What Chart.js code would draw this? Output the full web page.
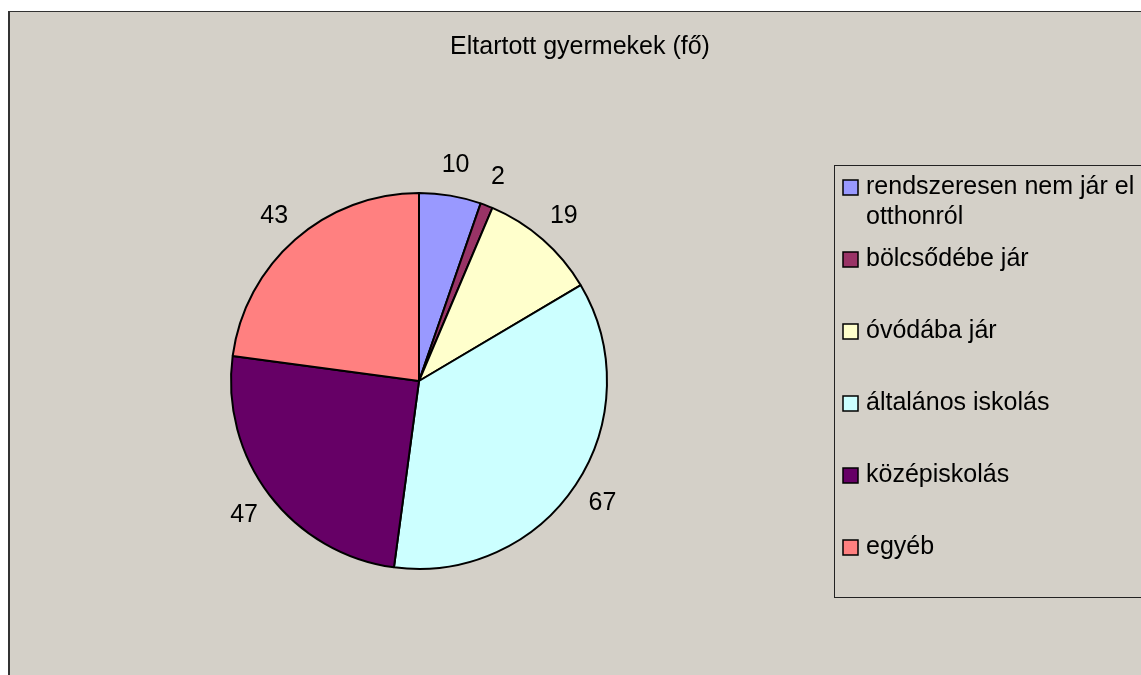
<!DOCTYPE html>
<html>
<head>
<meta charset="utf-8">
<script src="https://cdn.jsdelivr.net/npm/chart.js@4/dist/chart.umd.min.js"></script>
<style>
  body { margin: 0; background: #fff; overflow: hidden; }
  #frame { position: absolute; left: 8px; top: 11px; width: 1160px; height: 700px;
           border-left: 2px solid #333; border-top: 1px solid #333; background: #D4D0C8; }
  #pie { position: absolute; left: 0; top: 0; }
</style>
</head>
<body>
<div id="frame"><canvas id="pie" width="1140" height="665"></canvas></div>
<script>
const title = 'Eltartott gyermekek (fő)';
const categories = ['rendszeresen nem jár el otthonról', 'bölcsődébe jár', 'óvódába jár',
                    'általános iskolás', 'középiskolás', 'egyéb'];
const values = [10, 2, 19, 67, 47, 43];
const colors = ['#9999FF', '#993366', '#FFFFCC', '#CCFFFF', '#660066', '#FF8080'];

const FONT = '25px "Liberation Sans", Arial, sans-serif';

// title centred over the whole frame
const titlePlugin = {
  id: 'xlTitle',
  afterDraw(c) {
    const g = c.ctx;
    g.save();
    g.font = FONT; g.fillStyle = '#000';
    g.textAlign = 'center'; g.textBaseline = 'middle';
    g.fillText(title, c.width / 2, 35);
    g.restore();
  }
};

// value labels just outside each slice
const valueLabels = {
  id: 'valueLabels',
  afterDatasetsDraw(c) {
    const g = c.ctx;
    const meta = c.getDatasetMeta(0);
    g.save();
    g.font = FONT; g.fillStyle = '#000';
    g.textAlign = 'center'; g.textBaseline = 'middle';
    meta.data.forEach((arc, i) => {
      const p = arc.getProps(['x', 'y', 'startAngle', 'endAngle', 'outerRadius'], true);
      const a = (p.startAngle + p.endAngle) / 2;
      const d = p.outerRadius * 1.17;
      g.fillText(String(c.data.datasets[0].data[i]), p.x + Math.cos(a) * d, p.y + 1 + Math.sin(a) * d);
    });
    g.restore();
  }
};

// boxed legend on the right, one row every 72px, long labels wrapped
const boxLegend = {
  id: 'boxLegend',
  afterDraw(c) {
    const g = c.ctx;
    const left = 824, top = 153, bottom = 585;
    g.save();
    g.strokeStyle = '#222'; g.lineWidth = 1;
    g.strokeRect(left + 0.5, top + 0.5, 400, bottom - top);
    g.font = FONT; g.textBaseline = 'middle'; g.textAlign = 'left';
    c.data.labels.forEach((lab, i) => {
      const cy = 175.5 + 72 * i;
      g.fillStyle = c.data.datasets[0].backgroundColor[i];
      g.fillRect(833, cy - 7.5, 15, 15);
      g.strokeStyle = '#000'; g.lineWidth = 1.5;
      g.strokeRect(833, cy - 7.5, 15, 15);
      // wrap
      const words = lab.split(' ');
      const lines = [];
      let cur = '';
      words.forEach(w => {
        const t = cur ? cur + ' ' + w : w;
        if (g.measureText(t).width > 285 && cur) { lines.push(cur); cur = w; } else cur = t;
      });
      lines.push(cur);
      g.fillStyle = '#000';
      lines.forEach((ln, k) => g.fillText(ln, 856, cy + 30 * k));
    });
    g.restore();
  }
};

new Chart(document.getElementById('pie'), {
  type: 'pie',
  data: {
    labels: categories,
    datasets: [{ data: values, backgroundColor: colors, borderColor: '#000', borderWidth: 2 }]
  },
  options: {
    responsive: false,
    animation: false,
    layout: { padding: { left: 220, right: 542, top: 180, bottom: 107 } },
    plugins: { legend: { display: false }, title: { display: false }, tooltip: { enabled: false } }
  },
  plugins: [titlePlugin, valueLabels, boxLegend]
});
</script>
</body>
</html>
